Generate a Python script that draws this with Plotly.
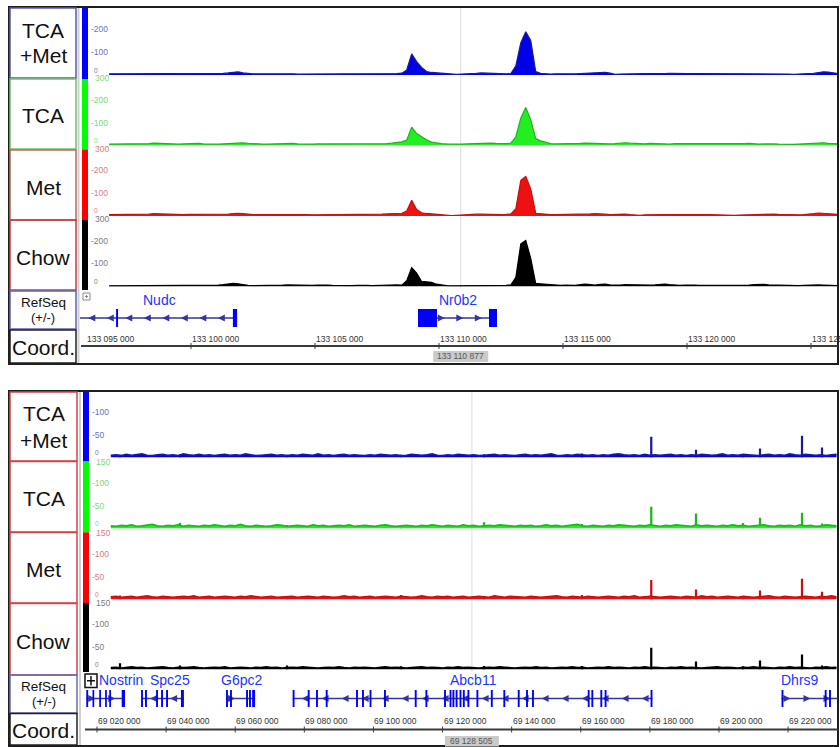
import plotly.graph_objects as go

W, H = 840, 747
FONT = "Liberation Sans, Arial, sans-serif"

# ======================= DATA =======================
track_names = [["TCA", "+Met"], ["TCA"], ["Met"], ["Chow"]]

# ---- top panel: region around Nr0b2 ----
top_view = [133095525, 133126090]
top_bin_start = 133096700
top_bin_size = 200
top_tca_met = [
    5, 5, 4, 5, 6, 6, 5, 5, 6, 6,
    5, 6, 6, 7, 6, 5, 5, 6, 5, 4,
    4, 5, 6, 7, 9, 12, 14, 9, 6, 5,
    5, 4, 4, 5, 5, 6, 5, 5, 4, 4,
    5, 5, 6, 5, 5, 5, 6, 6, 5, 5,
    5, 6, 6, 5, 6, 6, 7, 7, 6, 8,
    22, 92, 58, 33, 15, 11, 9, 8, 6, 3,
    3, 4, 4, 6, 7, 9, 8, 6, 5, 5,
    5, 6, 40, 140, 188, 150, 15, 7, 5, 4,
    5, 6, 6, 5, 5, 6, 6, 6, 7, 10,
    12, 8, 3, 4, 5, 6, 6, 7, 6, 6,
    5, 5, 6, 7, 6, 5, 5, 6, 6, 6,
    6, 5, 5, 6, 5, 5, 5, 6, 6, 7,
    6, 5, 4, 5, 6, 6, 5, 4, 3, 3,
    5, 6, 7, 10, 14, 13, 8, 6]
top_tca = [
    6, 6, 5, 6, 7, 7, 6, 6, 8, 10,
    9, 7, 6, 6, 6, 7, 8, 10, 9, 7,
    6, 6, 6, 7, 8, 10, 12, 11, 9, 7,
    6, 6, 6, 7, 7, 8, 10, 9, 7, 6,
    6, 6, 7, 7, 6, 5, 6, 8, 7, 6,
    6, 6, 6, 5, 6, 7, 8, 10, 14, 16,
    24, 80, 52, 38, 25, 15, 10, 8, 7, 6,
    5, 6, 7, 8, 7, 7, 8, 10, 9, 7,
    8, 10, 38, 120, 165, 112, 30, 20, 14, 8,
    7, 7, 6, 7, 8, 9, 10, 9, 7, 6,
    7, 7, 8, 10, 12, 10, 8, 7, 7, 9,
    8, 7, 7, 6, 8, 8, 7, 6, 6, 7,
    8, 8, 7, 6, 6, 5, 6, 7, 8, 9,
    7, 6, 7, 8, 7, 6, 5, 4, 5, 6,
    7, 8, 10, 13, 12, 9, 7, 7]
top_met = [
    6, 6, 5, 6, 6, 7, 6, 6, 8, 10,
    9, 8, 7, 6, 7, 6, 7, 7, 6, 6,
    6, 6, 6, 7, 8, 10, 12, 10, 7, 6,
    6, 6, 7, 6, 7, 8, 9, 8, 7, 6,
    6, 5, 5, 6, 6, 5, 5, 6, 6, 7,
    7, 6, 6, 7, 8, 8, 9, 10, 9, 12,
    22, 68, 28, 14, 11, 9, 8, 7, 5, 2,
    3, 5, 6, 7, 8, 8, 7, 6, 6, 6,
    7, 9, 32, 155, 172, 118, 12, 9, 7, 6,
    6, 6, 7, 6, 6, 7, 8, 9, 10, 10,
    8, 6, 7, 9, 8, 6, 4, 3, 5, 6,
    6, 7, 6, 6, 7, 8, 6, 6, 5, 6,
    6, 6, 5, 6, 5, 4, 3, 4, 5, 6,
    6, 6, 6, 7, 8, 7, 6, 6, 5, 5,
    6, 7, 10, 13, 12, 9, 7, 7]
top_chow = [
    3, 3, 4, 4, 3, 4, 3, 3, 4, 4,
    5, 4, 3, 3, 4, 3, 3, 3, 4, 4,
    4, 5, 6, 8, 11, 14, 12, 8, 5, 4,
    4, 4, 3, 4, 5, 6, 7, 6, 5, 4,
    4, 5, 6, 7, 6, 5, 4, 3, 3, 4,
    5, 6, 5, 4, 5, 6, 7, 8, 7, 6,
    25, 82, 58, 22, 20, 18, 10, 6, 4, 3,
    3, 4, 4, 5, 6, 6, 5, 4, 4, 4,
    5, 7, 40, 185, 200, 122, 14, 12, 10, 6,
    5, 5, 6, 5, 5, 8, 10, 8, 6, 9,
    10, 7, 5, 6, 8, 7, 6, 5, 5, 6,
    7, 9, 10, 8, 6, 5, 6, 7, 6, 5,
    5, 4, 4, 5, 5, 4, 4, 4, 5, 6,
    8, 10, 9, 7, 6, 5, 5, 4, 4, 4,
    5, 6, 8, 7, 6, 5, 4, 4]
top_ymax = 300
top_tick_values = [300, 200, 100, 0]
top_tick_texts = ["300", "-200", "-100", "0"]

# ---- bottom panel: region around Abcb11 ----
bot_view = [69016240, 69234445]
bot_bin_start = 69024000
bot_bin_size = 1500
bot_tca_met = [
    5, 6, 4, 7, 5, 6, 8, 5, 4, 6, 7, 5, 6, 4, 8, 6, 5, 7, 5, 6,
    4, 6, 7, 5, 6, 5, 8, 6, 4, 5, 6, 7, 5, 6, 4, 6, 5, 7, 6, 5,
    8, 5, 6, 4, 6, 7, 5, 6, 5, 4, 6, 5, 7, 6, 5, 6, 4, 5, 7, 6,
    5, 6, 8, 5, 4, 6, 5, 7, 6, 5, 6, 4, 5, 6, 7, 5, 6, 5, 4, 6,
    7, 5, 6, 5, 6, 8, 5, 4, 6, 5, 7, 6, 5, 6, 4, 6, 5, 7, 8, 6,
    5, 6, 4, 7, 5, 6, 5, 6, 7, 5, 6, 4, 6, 5, 7, 6, 5, 6, 8, 5,
    6, 5, 7, 6, 5, 4, 6, 7, 5, 6, 5, 8, 6, 5, 7, 6, 5, 6, 4, 6,
    7]
bot_tca = [
    6, 5, 7, 6, 8, 5, 6, 7, 9, 6, 5, 7, 6, 8, 5, 7, 6, 5, 7, 6,
    8, 6, 5, 7, 6, 9, 6, 5, 7, 6, 5, 6, 8, 7, 5, 6, 7, 6, 5, 8,
    6, 7, 5, 6, 7, 6, 8, 5, 6, 7, 6, 5, 7, 8, 6, 5, 6, 7, 6, 5,
    7, 6, 8, 6, 5, 7, 6, 5, 8, 6, 7, 5, 6, 7, 6, 8, 7, 6, 5, 7,
    6, 7, 5, 6, 8, 6, 7, 5, 6, 7, 9, 6, 5, 7, 6, 5, 7, 6, 8, 7,
    6, 5, 7, 6, 8, 6, 5, 7, 6, 8, 7, 6, 5, 8, 6, 7, 6, 5, 7, 6,
    8, 6, 7, 5, 6, 7, 8, 6, 5, 7, 6, 7, 5, 8, 6, 7, 5, 6, 8, 7,
    6]
bot_met = [
    6, 7, 5, 6, 7, 5, 6, 8, 6, 5, 7, 6, 5, 6, 7, 6, 8, 5, 6, 7,
    5, 6, 7, 6, 5, 7, 6, 8, 6, 5, 6, 7, 5, 6, 6, 7, 5, 6, 7, 6,
    5, 7, 6, 5, 6, 8, 6, 7, 5, 6, 7, 5, 6, 7, 6, 5, 7, 6, 5, 6,
    8, 6, 5, 7, 6, 7, 5, 6, 7, 5, 6, 7, 6, 5, 8, 6, 5, 7, 6, 6,
    5, 7, 6, 5, 6, 7, 8, 6, 5, 7, 6, 5, 7, 6, 5, 6, 7, 6, 5, 7,
    6, 8, 5, 6, 7, 6, 5, 6, 7, 6, 5, 7, 6, 5, 8, 6, 7, 5, 6, 7,
    6, 5, 7, 6, 5, 6, 7, 8, 6, 5, 7, 6, 5, 6, 7, 6, 5, 7, 6, 8,
    6]
bot_chow = [
    4, 5, 3, 4, 6, 4, 5, 3, 4, 5, 6, 4, 3, 5, 4, 5, 6, 4, 3, 4,
    5, 4, 6, 3, 4, 5, 4, 3, 5, 4, 6, 4, 5, 3, 4, 5, 4, 6, 5, 4,
    3, 4, 5, 4, 6, 4, 3, 5, 4, 5, 4, 3, 5, 6, 4, 5, 4, 3, 4, 5,
    6, 4, 5, 4, 3, 5, 4, 6, 4, 5, 4, 3, 4, 5, 4, 6, 5, 4, 3, 4,
    5, 4, 6, 4, 5, 3, 4, 5, 4, 6, 4, 5, 3, 4, 5, 4, 6, 4, 5, 4,
    3, 5, 4, 6, 4, 5, 4, 3, 5, 4, 6, 4, 5, 4, 3, 4, 5, 6, 4, 5,
    4, 3, 5, 4, 6, 4, 5, 4, 3, 5, 4, 6, 4, 5, 4, 3, 5, 4, 6, 4,
    5]
bot_spike_pos = [69026660, 69044020, 69074990, 69107980, 69132000, 69160360,
                 69180400, 69193350, 69206950, 69211870, 69224030, 69229815]
bot_spike_tca_met = [6, 8, 6, 6, 7, 9, 46, 17, 8, 20, 48, 22]
bot_spike_tca = [8, 12, 8, 7, 14, 10, 48, 33, 12, 24, 35, 11]
bot_spike_met = [9, 7, 7, 10, 8, 10, 43, 22, 8, 20, 46, 17]
bot_spike_chow = [14, 9, 9, 7, 8, 8, 48, 18, 7, 20, 33, 9]
bot_ymax = 150
bot_tick_values = [150, 100, 50, 0]
bot_tick_texts = ["150", "-100", "-50", "0"]

# ---- coordinate rulers ----
top_coord_ticks = [133095000, 133100000, 133105000, 133110000, 133115000, 133120000, 133125000]
top_coord_labels = ["133 095 000", "133 100 000", "133 105 000", "133 110 000",
                    "133 115 000", "133 120 000", "133 125 000"]
top_cursor = 133110877
top_cursor_label = "133 110 877"
bot_coord_ticks = [69020000, 69040000, 69060000, 69080000, 69100000, 69120000,
                   69140000, 69160000, 69180000, 69200000, 69220000]
bot_coord_labels = ["69 020 000", "69 040 000", "69 060 000", "69 080 000", "69 100 000",
                    "69 120 000", "69 140 000", "69 160 000", "69 180 000", "69 200 000",
                    "69 220 000"]
bot_cursor = 69128505
bot_cursor_label = "69 128 505"

# ---- RefSeq genes ----
nudc_exons = [(133096980, 133097060), (133101690, 133101860)]
nr0b2_exons = [(133109153, 133109919), (133112016, 133112339)]
top_gene_names = ["Nudc", "Nr0b2"]
top_gene_starts = [133095000, 133109153]
top_gene_ends = [133101860, 133112339]
top_gene_strands = ["-", "+"]
top_gene_exons = [nudc_exons, nr0b2_exons]

nostrin_exons = [(69016900, 69017450), (69018700, 69019200), (69020650, 69021150),
                 (69022350, 69022850), (69023550, 69024050), (69027150, 69028100)]
spc25_exons = [(69032750, 69033300), (69033900, 69034450), (69037100, 69037650),
               (69038550, 69039100), (69040000, 69040550), (69044300, 69045150)]
g6pc2_exons = [(69057350, 69057900), (69058500, 69059050), (69063150, 69063700),
               (69064000, 69064550), (69064900, 69065750)]
abcb11_exons = [(69076620, 69077170), (69080990, 69081540), (69083390, 69083940),
                (69086200, 69086750), (69094970, 69095520), (69096700, 69097250),
                (69098880, 69099430), (69103070, 69103620), (69111960, 69112510),
                (69115050, 69115600), (69120440, 69120990), (69122030, 69122580),
                (69122870, 69123420), (69123790, 69124340), (69124920, 69125470),
                (69125880, 69126430), (69127210, 69127760), (69129810, 69130360),
                (69133980, 69134530), (69137600, 69138150), (69141770, 69142320),
                (69144170, 69144720), (69145900, 69146450), (69162020, 69162570),
                (69163070, 69163620), (69165670, 69166220), (69166910, 69167460),
                (69180200, 69180750)]
dhrs9_exons = [(69218100, 69218650), (69230600, 69231150), (69231850, 69232400)]
bot_gene_names = ["Nostrin", "Spc25", "G6pc2", "Abcb11", "Dhrs9"]
bot_gene_starts = [69016900, 69032750, 69057350, 69076620, 69218100]
bot_gene_ends = [69028100, 69045150, 69065750, 69180750, 69240000]
bot_gene_strands = ["+", "-", "+", "-", "+"]
bot_gene_exons = [nostrin_exons, spc25_exons, g6pc2_exons, abcb11_exons, dhrs9_exons]

# ======================= STYLE / LAYOUT =======================
FILL = ["#0000e8", "#22ee22", "#ee1111", "#000000"]
LINE = ["#1a1a9a", "#1fb51f", "#c81010", "#000000"]
BAR = ["#0000ff", "#00ff00", "#ff0000", "#000000"]
TICKC = ["#7070c4", "#7ad87a", "#d48080", "#7a7a7a"]
GENE_EXON = "#0000ff"
GENE_LINE = "#3535a0"
GENE_TEXT = "#1a36ff"

CHARW = {"N": 722, "o": 556, "s": 500, "t": 278, "r": 333, "i": 222, "n": 556, "S": 667,
         "p": 556, "c": 500, "G": 778, "A": 667, "b": 556, "D": 722, "h": 556, "u": 556,
         "d": 556}


def text_w(s, size):
    return sum(CHARW.get(ch, 556) for ch in s) * size / 1000.0


TOP_P = dict(
    frame=(9, 7, 838, 364), label_x=(10, 76), sep_x=78.5,
    rows=[(8, 78), (79, 149), (150, 220), (220, 290), (291, 329), (330, 363)],
    box_colors=["#5a5aa8", "#70c070", "#b5695c", "#c23c3c", "#6262b8", "#222222"],
    two_line_off=12, bar_x=(82, 88), bar_rows=[(7, 79), (79, 149.5), (149.5, 220), (220, 290)],
    xdom=(80, 838), bases=[75, 145.5, 216, 286.5], track_h=69, sig_lw=1.2,
    gene_row=(309, 327), gene_label_y=299.5, gene_label_min=80,
    icon=(83, 293, 90, 300, "#8a8a8a", 1),
    coord_label_y=338.5, coord_line_y=346, cursor_box=(351, 362), cursor_w=55,
    label_clamp=86, arrow_px=18.5,
)
BOT_P = dict(
    frame=(9, 391, 838, 746), label_x=(10, 77), sep_x=80,
    rows=[(392, 461), (461.5, 532), (532.5, 603), (603.5, 675), (675, 713), (713.5, 745)],
    box_colors=["#d24646", "#d24646", "#d24646", "#d24646", "#6a6ac0", "#222222"],
    two_line_off=13.5, bar_x=(83, 89), bar_rows=[(391, 461.5), (461.5, 532.3), (532.3, 603), (603, 672)],
    xdom=(84, 838), bases=[457.5, 528.5, 599.5, 669.5], track_h=67.7, sig_lw=1.7,
    gene_row=(690, 707), gene_label_y=680, gene_label_min=98,
    icon=(85, 674, 97, 687.5, "#111111", 1.5),
    coord_label_y=721, coord_line_y=729.5, cursor_box=(736, 746.5), cursor_w=54,
    label_clamp=86, arrow_px=20,
)

fig = go.Figure()
shapes, annos, lay = [], [], {}


def X(p):
    return p / W


def Y(p):
    return 1 - p / H


def rect_px(x0, y0, x1, y1, line=None, fill=None, lw=1.0, layer="above"):
    shapes.append(dict(type="rect", xref="paper", yref="paper", x0=X(x0), x1=X(x1),
                       y0=Y(y1), y1=Y(y0), layer=layer,
                       line=dict(color=line if line else "rgba(0,0,0,0)", width=lw if line else 0),
                       fillcolor=fill if fill else "rgba(0,0,0,0)"))


def line_px(x0, y0, x1, y1, color, lw, layer="above"):
    shapes.append(dict(type="line", xref="paper", yref="paper", x0=X(x0), x1=X(x1),
                       y0=Y(y0), y1=Y(y1), line=dict(color=color, width=lw), layer=layer))


def text_px(x, y, s, size, color, xanchor="center"):
    annos.append(dict(xref="paper", yref="paper", x=X(x), y=Y(y), text=s, showarrow=False,
                      xanchor=xanchor, yanchor="middle", borderpad=0,
                      font=dict(family=FONT, size=size, color=color)))


def build_panel(P, xi, yi0, view, bin_start, bin_size, signals, ymax, tick_vals, tick_txts,
                spikes, spike_pos, gnames, gstarts, gends, gstrands, gexons,
                cticks, clabels, cursor, cursor_label):
    xs = "" if xi == 1 else str(xi)
    xid = "x" + xs
    lo, hi = view
    xd0, xd1 = P["xdom"]

    def bp2px(bp):
        return xd0 + (bp - lo) / (hi - lo) * (xd1 - xd0)

    lay["xaxis" + xs] = dict(domain=[X(xd0), X(xd1)], range=[lo, hi], visible=False,
                             fixedrange=True, anchor="y" + ("" if yi0 == 1 else str(yi0)))

    # frame and label column
    fx0, fy0, fx1, fy1 = P["frame"]
    rect_px(fx0, fy0, fx1, fy1, line="#1e1e1e", lw=2)
    line_px(P["sep_x"], fy0 + 1, P["sep_x"], fy1 - 1, "#cfcfcf", 2)
    lx0, lx1 = P["label_x"]
    lxc = (lx0 + lx1) / 2
    for k, (r0, r1) in enumerate(P["rows"]):
        rect_px(lx0, r0, lx1, r1, line=P["box_colors"][k], lw=1.5)
    for k, parts in enumerate(track_names):
        r0, r1 = P["rows"][k]
        c = (r0 + r1) / 2
        if len(parts) == 2:
            text_px(lxc, c - P["two_line_off"], parts[0], 21, "#111111")
            text_px(lxc, c + P["two_line_off"], parts[1], 21, "#111111")
        else:
            text_px(lxc, c + 2, parts[0], 21, "#111111")
    r0, r1 = P["rows"][4]
    c = (r0 + r1) / 2
    text_px(lxc, c - 7.5, "RefSeq", 13.5, "#111111")
    text_px(lxc, c + 7.5, "(+/-)", 13, "#111111")
    r0, r1 = P["rows"][5]
    text_px(lxc, (r0 + r1) / 2 + 1, "Coord.", 21, "#111111")

    # colour bars
    bx0, bx1 = P["bar_x"]
    for k, (r0, r1) in enumerate(P["bar_rows"]):
        rect_px(bx0, r0, bx1, r1, fill=BAR[k], layer="below")

    # cursor line
    cpx = bp2px(cursor)
    line_px(cpx, fy0 + 1, cpx, P["bases"][-1] + 2, "#dddddd", 1, layer="below")

    # signal tracks
    for k, vals in enumerate(signals):
        yi = yi0 + k
        ys = "" if yi == 1 else str(yi)
        base = P["bases"][k]
        th = P["track_h"]
        lay["yaxis" + ys] = dict(domain=[Y(base), Y(base - th)], range=[0, ymax], visible=False,
                                 fixedrange=True, anchor=xid)
        pos = [bin_start + bin_size * i for i in range(len(vals))]
        fig.add_trace(go.Scatter(x=pos, y=vals, mode="lines", fill="tozeroy",
                                 fillcolor=FILL[k], line=dict(color=LINE[k], width=P["sig_lw"]),
                                 xaxis=xid, yaxis="y" + ys, hoverinfo="skip"))
        if spikes is not None:
            fig.add_trace(go.Bar(x=spike_pos, y=spikes[k], width=[650] * len(spike_pos),
                                 marker=dict(color=LINE[k], line=dict(width=0)),
                                 xaxis=xid, yaxis="y" + ys, hoverinfo="skip"))
        for v, t in zip(tick_vals, tick_txts):
            if v == ymax and k == 0:
                continue
            py = base - v / ymax * th
            if v == 0:
                text_px(bx1 + 5, py - 5, t, 6.5, TICKC[k], xanchor="left")
            elif v == ymax:
                text_px(bx1 + 6, py + 1.5, t, 8.5, TICKC[k], xanchor="left")
            else:
                text_px(bx1 + 1.5, py, t, 8.5, TICKC[k], xanchor="left")

    # gene track
    gi = yi0 + len(signals)
    gs = str(gi)
    g0, g1 = P["gene_row"]
    lay["yaxis" + gs] = dict(domain=[Y(g1), Y(g0)], range=[0, 1], visible=False,
                             fixedrange=True, anchor=xid)
    ix0, iy0, ix1, iy1, icol, ilw = P["icon"]
    rect_px(ix0, iy0, ix1, iy1, line=icol, lw=ilw, fill="#ffffff")
    line_px(ix0 + 2, (iy0 + iy1) / 2, ix1 - 2, (iy0 + iy1) / 2, icol, ilw)
    line_px((ix0 + ix1) / 2, iy0 + 2, (ix0 + ix1) / 2, iy1 - 2, icol, ilw)

    bp_per_px = (hi - lo) / (xd1 - xd0)
    prev_right = P["gene_label_min"]
    for name, s, e, strand, exons in zip(gnames, gstarts, gends, gstrands, gexons):
        vs, ve = max(s, lo), min(e, hi)
        shapes.append(dict(type="line", xref=xid, yref="y" + gs, x0=vs, x1=ve, y0=0.5, y1=0.5,
                           line=dict(color=GENE_LINE, width=1.5)))
        step = P["arrow_px"] * bp_per_px
        apos = []
        a = vs + step * 0.45
        while a < ve - step * 0.2:
            apos.append(a)
            a += step
        fig.add_trace(go.Scatter(x=apos, y=[0.5] * len(apos), mode="markers",
                                 marker=dict(symbol="arrow-left" if strand == "-" else "arrow-right",
                                             size=7, color=GENE_LINE, line=dict(width=0)),
                                 xaxis=xid, yaxis="y" + gs, hoverinfo="skip"))
        for ex0, ex1 in exons:
            a0, a1 = max(ex0, lo), min(ex1, hi)
            if a1 <= a0:
                continue
            shapes.append(dict(type="rect", xref=xid, yref="y" + gs, x0=a0, x1=a1, y0=0, y1=1,
                               fillcolor=GENE_EXON, line=dict(width=0)))
        # gene name, centred on the visible part, pushed right to avoid overlaps
        w = text_w(name, 14)
        left = (bp2px(vs) + bp2px(ve)) / 2 - w / 2
        left = max(left, prev_right)
        left = min(left, xd1 - 21 - w)
        text_px(left, P["gene_label_y"], name, 14, GENE_TEXT, xanchor="left")
        prev_right = left + w + 7

    # coordinate ruler
    ly = P["coord_line_y"]
    line_px(xd0 + 1, ly, xd1, ly, "#3a3a3a", 2)
    for t, lab in zip(cticks, clabels):
        tpx = bp2px(t)
        if tpx >= xd0:
            line_px(tpx, ly - 3, tpx, ly + 3, "#3a3a3a", 1)
        text_px(max(tpx, P["label_clamp"]), P["coord_label_y"], lab, 8.5, "#333333", xanchor="left")
    cb0, cb1 = P["cursor_box"]
    cw = P["cursor_w"]
    rect_px(cpx - cw / 2, cb0, cpx + cw / 2, cb1, fill="#cacaca")
    text_px(cpx, (cb0 + cb1) / 2, cursor_label, 8.5, "#555555")


build_panel(TOP_P, 1, 1, top_view, top_bin_start, top_bin_size,
            [top_tca_met, top_tca, top_met, top_chow], top_ymax, top_tick_values, top_tick_texts,
            None, None, top_gene_names, top_gene_starts, top_gene_ends, top_gene_strands,
            top_gene_exons, top_coord_ticks, top_coord_labels, top_cursor, top_cursor_label)
build_panel(BOT_P, 2, 6, bot_view, bot_bin_start, bot_bin_size,
            [bot_tca_met, bot_tca, bot_met, bot_chow], bot_ymax, bot_tick_values, bot_tick_texts,
            [bot_spike_tca_met, bot_spike_tca, bot_spike_met, bot_spike_chow], bot_spike_pos,
            bot_gene_names, bot_gene_starts, bot_gene_ends, bot_gene_strands, bot_gene_exons,
            bot_coord_ticks, bot_coord_labels, bot_cursor, bot_cursor_label)

fig.update_layout(width=W, height=H, margin=dict(l=0, r=0, t=0, b=0),
                  paper_bgcolor="#ffffff", plot_bgcolor="rgba(0,0,0,0)",
                  showlegend=False, hovermode=False, barmode="overlay",
                  shapes=shapes, annotations=annos, **lay)
fig.write_html("out.html")
